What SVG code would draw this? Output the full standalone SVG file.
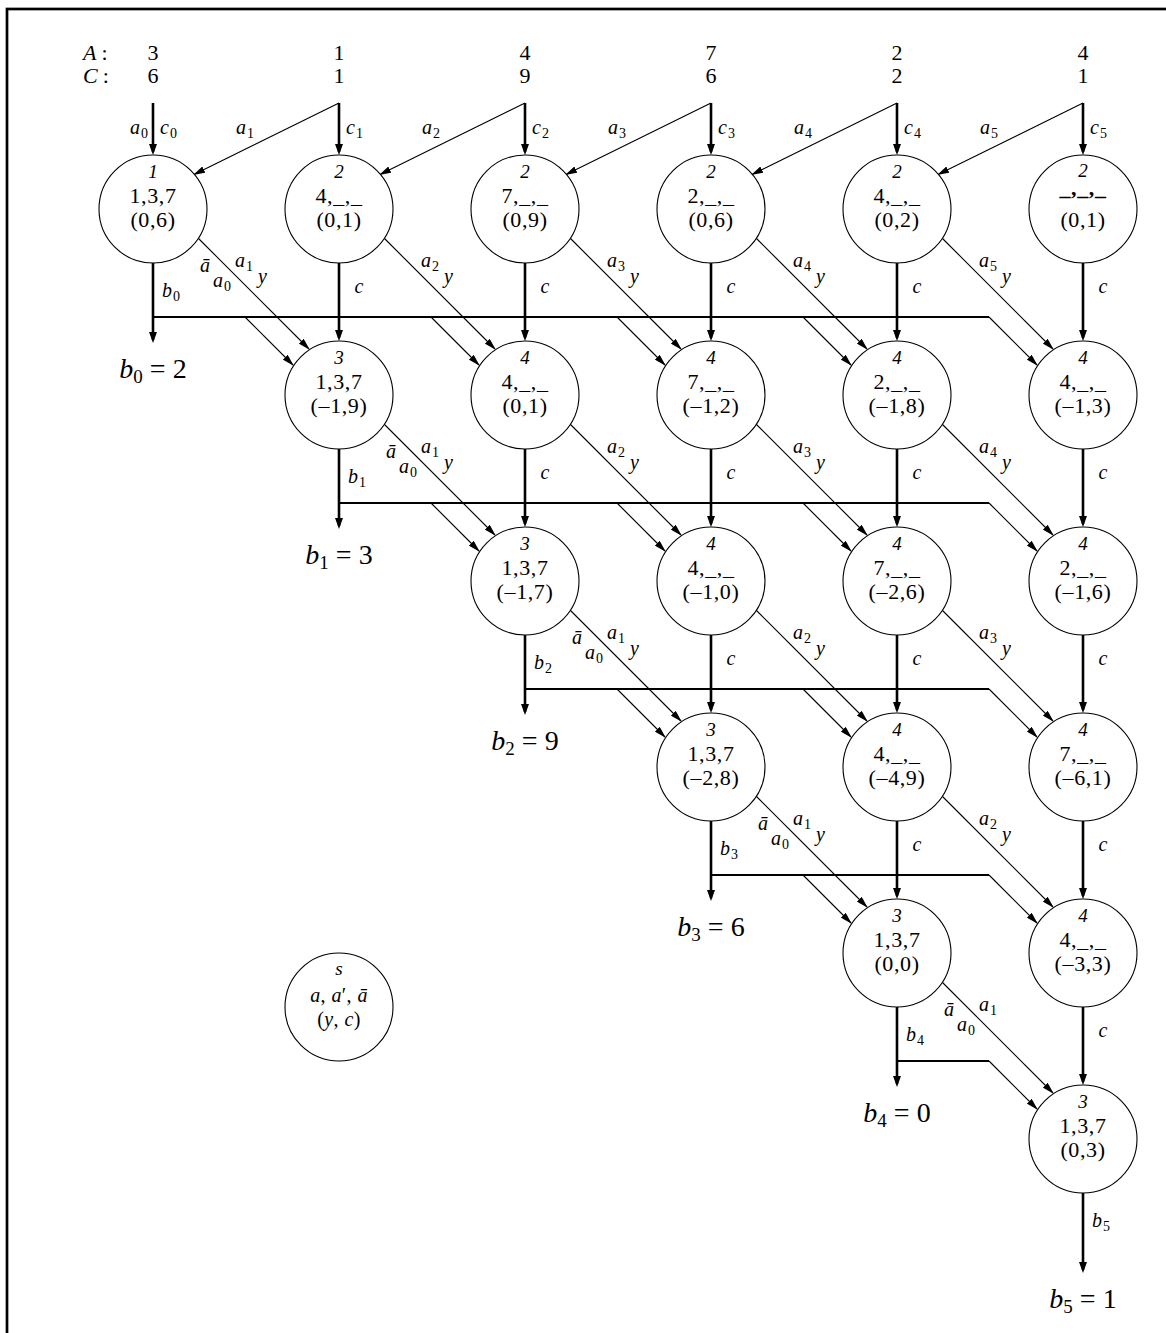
<svg xmlns="http://www.w3.org/2000/svg" width="1166" height="1333" viewBox="0 0 1166 1333">
<style>
text{font-family:"Liberation Serif","DejaVu Serif",serif;fill:#000}
.hd{font-size:22px;text-anchor:middle}
.hl{font-size:22px}
.t{font-size:19px;font-style:italic;text-anchor:middle}
.m{font-size:22px;text-anchor:middle;letter-spacing:0.6px}
.lg{font-size:20px;text-anchor:middle;letter-spacing:0.4px}
.lb{font-size:20px;font-style:italic}
.sub{font-size:14px;font-style:normal}
.bv{font-size:28px;text-anchor:middle}
.bvs{font-size:19px;font-style:normal}
.cl{font-size:20px;font-style:italic;text-anchor:middle}
circle{fill:#fff;stroke:#000;stroke-width:1.1}
.thick{stroke:#000;stroke-width:2.6;fill:none;marker-end:url(#ahk)}
.thin{stroke:#000;stroke-width:1.1;fill:none;marker-end:url(#ahn)}
.hz{stroke:#000;stroke-width:2;fill:none}
.bd{stroke:#000;stroke-width:2.7;fill:none}
</style>
<defs>
<marker id="ahk" markerUnits="userSpaceOnUse" markerWidth="11" markerHeight="8" refX="8" refY="4" orient="auto"><path d="M0,0 L11,4 L0,8 z" fill="#000"/></marker>
<marker id="ahn" markerUnits="userSpaceOnUse" markerWidth="12" markerHeight="7" refX="11" refY="3.5" orient="auto"><path d="M0,0 L12,3.5 L0,7 z" fill="#000"/></marker>
</defs>
<rect class="bd" x="7" y="9" width="1200" height="1400"/>
<g id="header">
<text class="hl" x="83" y="60"><tspan font-style="italic">A</tspan><tspan dx="5">:</tspan></text>
<text class="hl" x="83" y="83"><tspan font-style="italic">C</tspan><tspan dx="5">:</tspan></text>
<text class="hd" x="153" y="60">3</text><text class="hd" x="339" y="60">1</text><text class="hd" x="525" y="60">4</text><text class="hd" x="711" y="60">7</text><text class="hd" x="897" y="60">2</text><text class="hd" x="1083" y="60">4</text>
<text class="hd" x="153" y="83">6</text><text class="hd" x="339" y="83">1</text><text class="hd" x="525" y="83">9</text><text class="hd" x="711" y="83">6</text><text class="hd" x="897" y="83">2</text><text class="hd" x="1083" y="83">1</text>
</g>
<g id="connectors">
<line class="thick" x1="153" y1="103" x2="153" y2="152"/>
<line class="thick" x1="339" y1="103" x2="339" y2="152"/>
<line class="thick" x1="525" y1="103" x2="525" y2="152"/>
<line class="thick" x1="711" y1="103" x2="711" y2="152"/>
<line class="thick" x1="897" y1="103" x2="897" y2="152"/>
<line class="thick" x1="1083" y1="103" x2="1083" y2="152"/>
<line class="thin" x1="339" y1="103" x2="194" y2="174.5"/>
<line class="thin" x1="525" y1="103" x2="380" y2="174.5"/>
<line class="thin" x1="711" y1="103" x2="566" y2="174.5"/>
<line class="thin" x1="897" y1="103" x2="752" y2="174.5"/>
<line class="thin" x1="1083" y1="103" x2="938" y2="174.5"/>
<text class="lb" x="148" y="134" text-anchor="end">a<tspan class="sub" dx="1" dy="4">0</tspan></text>
<text class="lb" x="160" y="134">c<tspan class="sub" dx="1" dy="4">0</tspan></text>
<text class="lb" x="346" y="134">c<tspan class="sub" dx="1" dy="4">1</tspan></text>
<text class="lb" x="532" y="134">c<tspan class="sub" dx="1" dy="4">2</tspan></text>
<text class="lb" x="718" y="134">c<tspan class="sub" dx="1" dy="4">3</tspan></text>
<text class="lb" x="904" y="134">c<tspan class="sub" dx="1" dy="4">4</tspan></text>
<text class="lb" x="1090" y="134">c<tspan class="sub" dx="1" dy="4">5</tspan></text>
<text class="lb" x="236" y="134">a<tspan class="sub" dx="1" dy="4">1</tspan></text>
<text class="lb" x="422" y="134">a<tspan class="sub" dx="1" dy="4">2</tspan></text>
<text class="lb" x="608" y="134">a<tspan class="sub" dx="1" dy="4">3</tspan></text>
<text class="lb" x="794" y="134">a<tspan class="sub" dx="1" dy="4">4</tspan></text>
<text class="lb" x="980" y="134">a<tspan class="sub" dx="1" dy="4">5</tspan></text>
<line class="thick" x1="339" y1="263" x2="339" y2="338"/>
<line class="thick" x1="525" y1="263" x2="525" y2="338"/>
<line class="thick" x1="711" y1="263" x2="711" y2="338"/>
<line class="thick" x1="897" y1="263" x2="897" y2="338"/>
<line class="thick" x1="1083" y1="263" x2="1083" y2="338"/>
<line class="thick" x1="525" y1="449" x2="525" y2="524"/>
<line class="thick" x1="711" y1="449" x2="711" y2="524"/>
<line class="thick" x1="897" y1="449" x2="897" y2="524"/>
<line class="thick" x1="1083" y1="449" x2="1083" y2="524"/>
<line class="thick" x1="711" y1="635" x2="711" y2="710"/>
<line class="thick" x1="897" y1="635" x2="897" y2="710"/>
<line class="thick" x1="1083" y1="635" x2="1083" y2="710"/>
<line class="thick" x1="897" y1="821" x2="897" y2="896"/>
<line class="thick" x1="1083" y1="821" x2="1083" y2="896"/>
<line class="thick" x1="1083" y1="1007" x2="1083" y2="1082"/>
<text class="cl" x="359" y="293">c</text><text class="cl" x="545" y="293">c</text><text class="cl" x="731" y="293">c</text><text class="cl" x="917" y="293">c</text><text class="cl" x="1103" y="293">c</text>
<text class="cl" x="545" y="479">c</text><text class="cl" x="731" y="479">c</text><text class="cl" x="917" y="479">c</text><text class="cl" x="1103" y="479">c</text>
<text class="cl" x="731" y="665">c</text><text class="cl" x="917" y="665">c</text><text class="cl" x="1103" y="665">c</text>
<text class="cl" x="917" y="851">c</text><text class="cl" x="1103" y="851">c</text>
<text class="cl" x="1103" y="1037">c</text>
<line class="thick" x1="153" y1="263" x2="153" y2="340"/>
<line class="thick" x1="339" y1="449" x2="339" y2="526"/>
<line class="thick" x1="525" y1="635" x2="525" y2="712"/>
<line class="thick" x1="711" y1="821" x2="711" y2="898"/>
<line class="thick" x1="897" y1="1007" x2="897" y2="1084"/>
<line class="thick" x1="1083" y1="1193" x2="1083" y2="1270"/>
<text class="lb" x="162" y="297">b<tspan class="sub" dx="1" dy="4">0</tspan></text>
<text class="lb" x="348" y="483">b<tspan class="sub" dx="1" dy="4">1</tspan></text>
<text class="lb" x="534" y="669">b<tspan class="sub" dx="1" dy="4">2</tspan></text>
<text class="lb" x="720" y="855">b<tspan class="sub" dx="1" dy="4">3</tspan></text>
<text class="lb" x="906" y="1041">b<tspan class="sub" dx="1" dy="4">4</tspan></text>
<text class="lb" x="1092" y="1227">b<tspan class="sub" dx="1" dy="4">5</tspan></text>
<text class="bv" x="153" y="378"><tspan font-style="italic">b</tspan><tspan class="bvs" dy="5">0</tspan><tspan dy="-5"> = 2</tspan></text>
<text class="bv" x="339" y="564"><tspan font-style="italic">b</tspan><tspan class="bvs" dy="5">1</tspan><tspan dy="-5"> = 3</tspan></text>
<text class="bv" x="525" y="750"><tspan font-style="italic">b</tspan><tspan class="bvs" dy="5">2</tspan><tspan dy="-5"> = 9</tspan></text>
<text class="bv" x="711" y="936"><tspan font-style="italic">b</tspan><tspan class="bvs" dy="5">3</tspan><tspan dy="-5"> = 6</tspan></text>
<text class="bv" x="897" y="1122"><tspan font-style="italic">b</tspan><tspan class="bvs" dy="5">4</tspan><tspan dy="-5"> = 0</tspan></text>
<text class="bv" x="1083" y="1308"><tspan font-style="italic">b</tspan><tspan class="bvs" dy="5">5</tspan><tspan dy="-5"> = 1</tspan></text>
<line class="hz" x1="153" y1="317" x2="989" y2="317"/>
<line class="hz" x1="339" y1="503" x2="989" y2="503"/>
<line class="hz" x1="525" y1="689" x2="989" y2="689"/>
<line class="hz" x1="711" y1="875" x2="989" y2="875"/>
<line class="hz" x1="897" y1="1061" x2="989" y2="1061"/>
<line class="thin" x1="245" y1="317" x2="293" y2="365"/>
<line class="thin" x1="431" y1="317" x2="479" y2="365"/>
<line class="thin" x1="617" y1="317" x2="665" y2="365"/>
<line class="thin" x1="803" y1="317" x2="851" y2="365"/>
<line class="thin" x1="989" y1="317" x2="1037" y2="365"/>
<line class="thin" x1="431" y1="503" x2="479" y2="551"/>
<line class="thin" x1="617" y1="503" x2="665" y2="551"/>
<line class="thin" x1="803" y1="503" x2="851" y2="551"/>
<line class="thin" x1="989" y1="503" x2="1037" y2="551"/>
<line class="thin" x1="617" y1="689" x2="665" y2="737"/>
<line class="thin" x1="803" y1="689" x2="851" y2="737"/>
<line class="thin" x1="989" y1="689" x2="1037" y2="737"/>
<line class="thin" x1="803" y1="875" x2="851" y2="923"/>
<line class="thin" x1="989" y1="875" x2="1037" y2="923"/>
<line class="thin" x1="989" y1="1061" x2="1037" y2="1109"/>
<line class="thin" x1="198" y1="238" x2="309" y2="349"/>
<line class="thin" x1="384" y1="238" x2="495" y2="349"/>
<line class="thin" x1="570" y1="238" x2="681" y2="349"/>
<line class="thin" x1="756" y1="238" x2="867" y2="349"/>
<line class="thin" x1="942" y1="238" x2="1053" y2="349"/>
<line class="thin" x1="384" y1="424" x2="495" y2="535"/>
<line class="thin" x1="570" y1="424" x2="681" y2="535"/>
<line class="thin" x1="756" y1="424" x2="867" y2="535"/>
<line class="thin" x1="942" y1="424" x2="1053" y2="535"/>
<line class="thin" x1="570" y1="610" x2="681" y2="721"/>
<line class="thin" x1="756" y1="610" x2="867" y2="721"/>
<line class="thin" x1="942" y1="610" x2="1053" y2="721"/>
<line class="thin" x1="756" y1="796" x2="867" y2="907"/>
<line class="thin" x1="942" y1="796" x2="1053" y2="907"/>
<line class="thin" x1="942" y1="982" x2="1053" y2="1093"/>
<text class="lb" x="200" y="272">ā</text><text class="lb" x="213" y="287">a<tspan class="sub" dx="1" dy="4">0</tspan></text><text class="lb" x="235" y="267">a<tspan class="sub" dx="1" dy="4">1</tspan></text><text class="lb" x="258" y="283">y</text>
<text class="lb" x="421" y="267">a<tspan class="sub" dx="1" dy="4">2</tspan></text><text class="lb" x="444" y="283">y</text>
<text class="lb" x="607" y="267">a<tspan class="sub" dx="1" dy="4">3</tspan></text><text class="lb" x="630" y="283">y</text>
<text class="lb" x="793" y="267">a<tspan class="sub" dx="1" dy="4">4</tspan></text><text class="lb" x="816" y="283">y</text>
<text class="lb" x="979" y="267">a<tspan class="sub" dx="1" dy="4">5</tspan></text><text class="lb" x="1002" y="283">y</text>
<text class="lb" x="386" y="458">ā</text><text class="lb" x="399" y="473">a<tspan class="sub" dx="1" dy="4">0</tspan></text><text class="lb" x="421" y="453">a<tspan class="sub" dx="1" dy="4">1</tspan></text><text class="lb" x="444" y="469">y</text>
<text class="lb" x="607" y="453">a<tspan class="sub" dx="1" dy="4">2</tspan></text><text class="lb" x="630" y="469">y</text>
<text class="lb" x="793" y="453">a<tspan class="sub" dx="1" dy="4">3</tspan></text><text class="lb" x="816" y="469">y</text>
<text class="lb" x="979" y="453">a<tspan class="sub" dx="1" dy="4">4</tspan></text><text class="lb" x="1002" y="469">y</text>
<text class="lb" x="572" y="644">ā</text><text class="lb" x="585" y="659">a<tspan class="sub" dx="1" dy="4">0</tspan></text><text class="lb" x="607" y="639">a<tspan class="sub" dx="1" dy="4">1</tspan></text><text class="lb" x="630" y="655">y</text>
<text class="lb" x="793" y="639">a<tspan class="sub" dx="1" dy="4">2</tspan></text><text class="lb" x="816" y="655">y</text>
<text class="lb" x="979" y="639">a<tspan class="sub" dx="1" dy="4">3</tspan></text><text class="lb" x="1002" y="655">y</text>
<text class="lb" x="758" y="830">ā</text><text class="lb" x="771" y="845">a<tspan class="sub" dx="1" dy="4">0</tspan></text><text class="lb" x="793" y="825">a<tspan class="sub" dx="1" dy="4">1</tspan></text><text class="lb" x="816" y="841">y</text>
<text class="lb" x="979" y="825">a<tspan class="sub" dx="1" dy="4">2</tspan></text><text class="lb" x="1002" y="841">y</text>
<text class="lb" x="944" y="1016">ā</text><text class="lb" x="957" y="1031">a<tspan class="sub" dx="1" dy="4">0</tspan></text><text class="lb" x="979" y="1011">a<tspan class="sub" dx="1" dy="4">1</tspan></text>
</g>
<g id="n00"><circle cx="153" cy="209" r="54"/><text class="t" x="153" y="178">1</text><text class="m" x="153" y="203">1,3,7</text><text class="m" x="153" y="227">(0,6)</text></g>
<g id="n01"><circle cx="339" cy="209" r="54"/><text class="t" x="339" y="178">2</text><text class="m" x="339" y="203">4,_,_</text><text class="m" x="339" y="227">(0,1)</text></g>
<g id="n02"><circle cx="525" cy="209" r="54"/><text class="t" x="525" y="178">2</text><text class="m" x="525" y="203">7,_,_</text><text class="m" x="525" y="227">(0,9)</text></g>
<g id="n03"><circle cx="711" cy="209" r="54"/><text class="t" x="711" y="178">2</text><text class="m" x="711" y="203">2,_,_</text><text class="m" x="711" y="227">(0,6)</text></g>
<g id="n04"><circle cx="897" cy="209" r="54"/><text class="t" x="897" y="178">2</text><text class="m" x="897" y="203">4,_,_</text><text class="m" x="897" y="227">(0,2)</text></g>
<g id="n05"><circle cx="1083" cy="209" r="54"/><text class="t" x="1083" y="177">2</text><text class="m" x="1083" y="195" font-weight="bold" font-size="17">_,_,_</text><text class="m" x="1083" y="227">(0,1)</text></g>
<g id="n11"><circle cx="339" cy="395" r="54"/><text class="t" x="339" y="364">3</text><text class="m" x="339" y="389">1,3,7</text><text class="m" x="339" y="413">(–1,9)</text></g>
<g id="n12"><circle cx="525" cy="395" r="54"/><text class="t" x="525" y="364">4</text><text class="m" x="525" y="389">4,_,_</text><text class="m" x="525" y="413">(0,1)</text></g>
<g id="n13"><circle cx="711" cy="395" r="54"/><text class="t" x="711" y="364">4</text><text class="m" x="711" y="389">7,_,_</text><text class="m" x="711" y="413">(–1,2)</text></g>
<g id="n14"><circle cx="897" cy="395" r="54"/><text class="t" x="897" y="364">4</text><text class="m" x="897" y="389">2,_,_</text><text class="m" x="897" y="413">(–1,8)</text></g>
<g id="n15"><circle cx="1083" cy="395" r="54"/><text class="t" x="1083" y="364">4</text><text class="m" x="1083" y="389">4,_,_</text><text class="m" x="1083" y="413">(–1,3)</text></g>
<g id="n22"><circle cx="525" cy="581" r="54"/><text class="t" x="525" y="550">3</text><text class="m" x="525" y="575">1,3,7</text><text class="m" x="525" y="599">(–1,7)</text></g>
<g id="n23"><circle cx="711" cy="581" r="54"/><text class="t" x="711" y="550">4</text><text class="m" x="711" y="575">4,_,_</text><text class="m" x="711" y="599">(–1,0)</text></g>
<g id="n24"><circle cx="897" cy="581" r="54"/><text class="t" x="897" y="550">4</text><text class="m" x="897" y="575">7,_,_</text><text class="m" x="897" y="599">(–2,6)</text></g>
<g id="n25"><circle cx="1083" cy="581" r="54"/><text class="t" x="1083" y="550">4</text><text class="m" x="1083" y="575">2,_,_</text><text class="m" x="1083" y="599">(–1,6)</text></g>
<g id="n33"><circle cx="711" cy="767" r="54"/><text class="t" x="711" y="736">3</text><text class="m" x="711" y="761">1,3,7</text><text class="m" x="711" y="785">(–2,8)</text></g>
<g id="n34"><circle cx="897" cy="767" r="54"/><text class="t" x="897" y="736">4</text><text class="m" x="897" y="761">4,_,_</text><text class="m" x="897" y="785">(–4,9)</text></g>
<g id="n35"><circle cx="1083" cy="767" r="54"/><text class="t" x="1083" y="736">4</text><text class="m" x="1083" y="761">7,_,_</text><text class="m" x="1083" y="785">(–6,1)</text></g>
<g id="n44"><circle cx="897" cy="953" r="54"/><text class="t" x="897" y="922">3</text><text class="m" x="897" y="947">1,3,7</text><text class="m" x="897" y="971">(0,0)</text></g>
<g id="n45"><circle cx="1083" cy="953" r="54"/><text class="t" x="1083" y="922">4</text><text class="m" x="1083" y="947">4,_,_</text><text class="m" x="1083" y="971">(–3,3)</text></g>
<g id="n55"><circle cx="1083" cy="1139" r="54"/><text class="t" x="1083" y="1108">3</text><text class="m" x="1083" y="1133">1,3,7</text><text class="m" x="1083" y="1157">(0,3)</text></g>
<g id="legend"><circle cx="339" cy="1007" r="54"/><text class="t" x="339" y="975">s</text><text class="lg" x="339" y="1002"><tspan font-style="italic">a</tspan>, <tspan font-style="italic">a</tspan>′, <tspan font-style="italic">ā</tspan></text><text class="lg" x="339" y="1026">(<tspan font-style="italic">y</tspan>, <tspan font-style="italic">c</tspan>)</text></g>
</svg>
